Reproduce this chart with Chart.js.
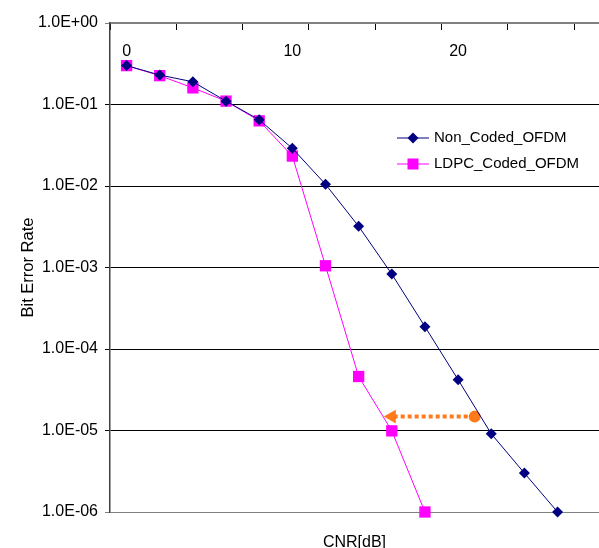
<!DOCTYPE html>
<html>
<head>
<meta charset="utf-8">
<script src="https://cdn.jsdelivr.net/npm/chart.js@4.4.0/dist/chart.umd.min.js"></script>
<style>
html,body{margin:0;padding:0;background:#fff;}
#wrap{position:relative;width:599px;height:548px;}
</style>
</head>
<body>
<div id="wrap"><canvas id="c" width="599" height="548"></canvas></div>
<script>
// ---- data ----
const cnrNonCoded = [0, 2, 4, 6, 8, 10, 12, 14, 16, 18, 20, 22, 24, 26];
const berNonCoded = [0.30, 0.23, 0.19, 0.11, 0.065, 0.029, 0.0105, 0.0032, 0.00083, 0.000188, 0.000042, 0.0000091, 0.0000030, 0.0000010];
const cnrLdpc = [0, 2, 4, 6, 8, 10, 12, 14, 16, 18];
const berLdpc = [0.30, 0.226, 0.16, 0.11, 0.063, 0.0233, 0.00105, 0.000046, 0.0000099, 0.0000010];
const arrowCnr = [21, 16];
const arrowBer = [0.0000148, 0.0000148];
const xTickMarks = [-1, 3, 7, 11, 15, 19, 23, 27];
const xTickLabels = [0, 10, 20];
const yDecades = [1e-6, 1e-5, 1e-4, 1e-3, 1e-2, 1e-1, 1];
const seriesNames = ['Non_Coded_OFDM', 'LDPC_Coded_OFDM'];

const FONT = "'Liberation Sans', Arial, sans-serif";
const toPts = (xs, ys) => xs.map((x, i) => ({x: x, y: ys[i]}));
const fmtE = v => {
  const e = Math.round(Math.log10(v));
  return '1.0E' + (e < 0 ? '-' : '+') + String(Math.abs(e)).padStart(2, '0');
};
const noPad = s => { s.paddingLeft = 0; s.paddingRight = 0; };

const legendPlugin = {
  id: 'insideLegend',
  afterDatasetsDraw(chart) {
    const ctx = chart.ctx;
    const rows = [
      {name: seriesNames[0], color: '#000080', shape: 'diamond', y: 138},
      {name: seriesNames[1], color: '#FF00FF', shape: 'square', y: 164}
    ];
    ctx.save();
    rows.forEach(r => {
      ctx.strokeStyle = r.color;
      ctx.lineWidth = 1;
      ctx.beginPath();
      ctx.moveTo(397, r.y);
      ctx.lineTo(429, r.y);
      ctx.stroke();
      ctx.fillStyle = r.color;
      ctx.beginPath();
      if (r.shape === 'diamond') {
        ctx.moveTo(413, r.y - 5.5); ctx.lineTo(418.5, r.y); ctx.lineTo(413, r.y + 5.5); ctx.lineTo(407.5, r.y);
        ctx.closePath();
      } else {
        ctx.rect(407.5, r.y - 5.5, 11, 11);
      }
      ctx.fill();
      ctx.fillStyle = '#000';
      ctx.font = '15px ' + FONT;
      ctx.textBaseline = 'middle';
      ctx.textAlign = 'left';
      ctx.fillText(r.name, 434, r.y);
    });
    ctx.restore();
  }
};

Chart.defaults.font.family = FONT;
Chart.defaults.color = '#000';

new Chart(document.getElementById('c'), {
  type: 'line',
  data: {
    datasets: [
      {
        label: seriesNames[0],
        data: toPts(cnrNonCoded, berNonCoded),
        xAxisID: 'x', yAxisID: 'y',
        borderColor: '#000080', backgroundColor: '#000080',
        borderWidth: 1, pointStyle: 'rectRot', pointRadius: 5.5,
        pointBorderWidth: 0, tension: 0, clip: false
      },
      {
        label: seriesNames[1],
        data: toPts(cnrLdpc, berLdpc),
        xAxisID: 'x', yAxisID: 'y',
        borderColor: '#FF00FF', backgroundColor: '#FF00FF',
        borderWidth: 1, pointStyle: 'rect', pointRadius: 8,
        pointBorderWidth: 0, tension: 0, clip: false
      },
      {
        label: 'arrow',
        data: toPts(arrowCnr, arrowBer),
        xAxisID: 'x', yAxisID: 'y',
        borderColor: '#FF7A1A', backgroundColor: '#FF7A1A',
        borderWidth: 4, borderDash: [4, 3],
        pointStyle: ['circle', 'triangle'], pointRotation: [0, -90],
        pointRadius: [6, 8], pointBorderWidth: 0, clip: false
      }
    ]
  },
  options: {
    responsive: false,
    animation: false,
    events: [],
    layout: {padding: {top: 23, left: 0, right: 0, bottom: 0}, autoPadding: false},
    plugins: {legend: {display: false}, tooltip: {enabled: false}, title: {display: false}},
    scales: {
      x: {
        type: 'linear', min: -1, max: 28.5,
        position: {y: 1},
        afterBuildTicks: s => { s.ticks = xTickMarks.map(v => ({value: v})); },
        afterFit: noPad,
        ticks: {display: false},
        grid: {drawOnChartArea: false, drawTicks: true, tickLength: 6, color: '#000', lineWidth: 1},
        border: {display: true, color: '#808080', width: 2}
      },
      xLab: {
        type: 'linear', min: -1, max: 28.5, axis: 'x',
        position: {y: 0.58},
        afterBuildTicks: s => { s.ticks = xTickLabels.map(v => ({value: v})); },
        afterFit: noPad,
        ticks: {display: true, padding: 0, maxRotation: 0, autoSkip: false, font: {size: 16}, color: '#000', callback: v => String(v)},
        grid: {display: false, drawTicks: false},
        border: {display: false}
      },
      xTitle: {
        type: 'linear', min: -1, max: 28.5, axis: 'x',
        position: 'bottom',
        ticks: {display: false},
        grid: {display: false, drawTicks: false},
        border: {display: false},
        title: {display: true, text: 'CNR[dB]', font: {size: 16}, color: '#000', padding: {top: 0, bottom: -4}},
        afterFit: s => { s.height = 36; noPad(s); }
      },
      y: {
        type: 'logarithmic', min: 1e-6, max: 1, position: 'left',
        afterBuildTicks: s => { s.ticks = yDecades.map(v => ({value: v})); },
        afterFit: s => { s.width = 110; s.paddingTop = 0; s.paddingBottom = 0; },
        ticks: {padding: 7, font: {size: 16}, color: '#000', callback: v => fmtE(v)},
        grid: {
          drawOnChartArea: true, drawTicks: true, tickLength: 5, lineWidth: 1,
          color: c => (c.tick && (c.tick.value === 1 || c.tick.value === 1e-6)) ? '#808080' : '#000'
        },
        border: {display: true, color: '#404040', width: 1.5},
        title: {display: true, text: 'Bit Error Rate', font: {size: 16.5}, color: '#000', padding: {top: 19, bottom: 0}}
      }
    }
  },
  plugins: [legendPlugin]
});
</script>
</body>
</html>
